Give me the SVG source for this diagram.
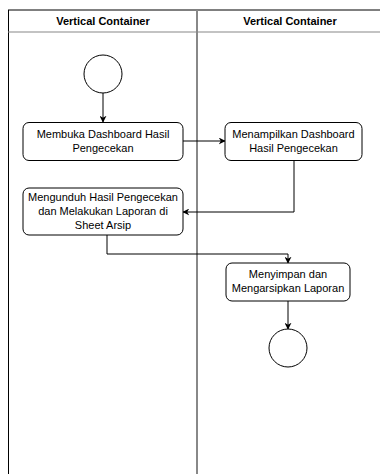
<svg xmlns="http://www.w3.org/2000/svg" width="380" height="474" viewBox="0 0 380 474">
<style>
.lane{fill:#fff;stroke:none}
.hdr{font-family:"Liberation Sans",Arial,sans-serif;font-size:11px;font-weight:bold;fill:#000;text-anchor:middle}
.box{fill:#fff;stroke:#000;stroke-width:1}
.t{font-family:"Liberation Sans",Arial,sans-serif;font-size:11px;fill:#000;text-anchor:middle}
.c{fill:none;stroke:#000;stroke-width:1}
.g{fill:none;stroke:#000;stroke-width:1}
</style>
<defs>
<marker id="ah" viewBox="0 0 10 10" refX="9" refY="5" markerWidth="7" markerHeight="7" orient="auto" markerUnits="userSpaceOnUse">
<path d="M0,0 L10,5 L0,10 L3,5 Z" fill="#000"/>
</marker>
</defs>
<rect x="0" y="0" width="380" height="474" fill="#fff"/>
<g id="lanes">
<line x1="8" y1="10" x2="380" y2="10" stroke="#000" stroke-width="1"/>
<line x1="8.5" y1="10" x2="8.5" y2="474" stroke="#000" stroke-width="1"/>
<line x1="8" y1="32" x2="380" y2="32" stroke="#888" stroke-width="1.2"/>
<line x1="197" y1="10" x2="197" y2="474" stroke="#888" stroke-width="2"/>
<text class="hdr" x="103" y="25">Vertical Container</text>
<text class="hdr" x="290" y="25">Vertical Container</text>
</g>
<g id="connectors">
<line class="c" x1="103" y1="93" x2="103" y2="122" marker-end="url(#ah)"/>
<line class="c" x1="183" y1="141" x2="225" y2="141" marker-end="url(#ah)"/>
<polyline class="c" points="294,160 294,212 183,212" marker-end="url(#ah)"/>
<polyline class="c" points="107,235 107,254 288,254 288,263" marker-end="url(#ah)"/>
<line class="c" x1="288" y1="301" x2="288" y2="329" marker-end="url(#ah)"/>
</g>
<g id="start">
<circle class="box" cx="103" cy="74" r="19"/>
</g>
<g id="membuka">
<rect class="box" x="23" y="122.5" width="160" height="38" rx="6"/>
<text class="t" x="103" y="138">Membuka Dashboard Hasil</text>
<text class="t" x="103" y="152">Pengecekan</text>
</g>
<g id="menampilkan">
<rect class="box" x="225" y="122.5" width="137" height="38" rx="6"/>
<text class="t" x="293.5" y="138">Menampilkan Dashboard</text>
<text class="t" x="293.5" y="152">Hasil Pengecekan</text>
</g>
<g id="mengunduh">
<rect class="box" x="23" y="188" width="160" height="47" rx="6"/>
<text class="t" x="103" y="201">Mengunduh Hasil Pengecekan</text>
<text class="t" x="103" y="215">dan Melakukan Laporan di</text>
<text class="t" x="103" y="229">Sheet Arsip</text>
</g>
<g id="menyimpan">
<rect class="box" x="226" y="263" width="124" height="38" rx="6"/>
<text class="t" x="288" y="278">Menyimpan dan</text>
<text class="t" x="288" y="292">Mengarsipkan Laporan</text>
</g>
<g id="end">
<circle class="box" cx="288" cy="348" r="19"/>
</g>
</svg>
